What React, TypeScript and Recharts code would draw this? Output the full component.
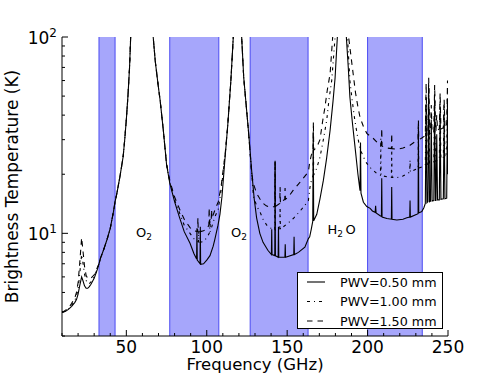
import { Legend, Line, LineChart, ReferenceArea, ReferenceDot, ReferenceLine, XAxis, YAxis } from 'recharts';

type Pt = [number, number];

// observing bands (GHz)
const bandStart = [33, 77, 127, 200];
const bandEnd = [43, 107.5, 163, 234];

const xTicks = [10, 20, 30, 40, 50, 60, 70, 80, 90, 100, 110, 120, 130, 140, 150, 160, 170, 180, 190, 200, 210, 220, 230, 240, 250];
const yTicks = [3, 4, 5, 6, 7, 8, 9, 10, 20, 30, 40, 50, 60, 70, 80, 90, 100];

const seriesNames = ['PWV=0.50 mm', 'PWV=1.00 mm', 'PWV=1.50 mm'];

const lineLabels = [
  { f: 61, t: 10.2, main: 'O', sub: '2', tail: '' },
  { f: 120.1, t: 10.2, main: 'O', sub: '2', tail: '' },
  { f: 183.9, t: 10.5, main: 'H', sub: '2', tail: 'O' },
];

// parts where all three curves sit on top of each other (saturated O2 lines)
const o2Wings60: Pt[] = [
  [34, 7.5], [36, 8.3], [38, 9.3], [40, 10.6], [42, 12.9], [43, 14.5], [44, 15.8], [46, 19.4], [48, 24.5],
  [49, 30], [50, 38], [51, 50], [52, 70], [52.7, 100], [53.5, 150], [55, 250], [64, 250], [66, 140],
  [66.7, 100], [68, 75], [70, 55], [71, 47.7], [73, 33.5], [75, 22.5],
];
const o2Wings118: Pt[] = [
  [113, 35], [115, 60], [116.5, 100], [117.5, 200], [120, 200], [121.7, 100], [123, 62], [125.9, 33.5],
];

const pwv050: Pt[] = [
  [10, 3.95], [12, 4.0], [14, 4.1], [16, 4.25], [18, 4.45], [19, 4.6], [20, 4.9], [21, 5.4], [22.2, 6.0],
  [23, 5.75], [24, 5.4], [25, 5.25], [26, 5.25], [27, 5.35], [28, 5.5], [30, 5.9], [32, 6.55], [33, 7.0],
  ...o2Wings60,
  [77, 18], [80, 14.5], [83, 12.1], [86, 10.2], [89.6, 8.9], [92, 7.9], [93.7, 7.4], [93.9, 10.6], [94.1, 7.3],
  [95.8, 7.0], [96, 10.8], [96.2, 6.95], [98, 7.0], [100, 7.3], [102, 7.7], [104, 8.6], [105, 9.3], [107, 11.0],
  [108.2, 12.5], [109.5, 15.5], [111.4, 24.4],
  ...o2Wings118,
  [128, 20.5], [129.5, 15], [131, 12], [133, 10], [135, 9], [138, 8.2], [140.2, 7.8], [140.4, 10.5], [140.6, 7.8],
  [142.3, 7.7], [142.5, 23], [142.7, 7.7], [144.4, 7.55], [144.6, 10.8], [144.8, 7.55], [147, 7.55], [148.6, 7.55],
  [148.8, 8.8], [149, 7.55], [150, 7.6], [154.1, 7.8], [154.3, 9.6], [154.5, 7.8], [157, 8.0], [161, 8.5],
  [163.2, 9.4], [164, 9.6], [165, 10.5], [165.9, 11.5], [166.2, 33], [166.5, 11.6], [168.4, 12.5], [170.4, 15],
  [172.5, 18.6], [174.5, 24], [176.7, 33.5], [178.5, 47], [179.8, 62], [181.2, 100], [182, 200], [185.5, 200],
  [186.8, 100], [188, 70], [189, 49.5], [190.5, 37], [192.2, 27.5], [194, 20], [195.3, 16.5], [195.6, 29],
  [195.9, 16], [197.4, 14.4], [199.5, 13.7], [201.6, 13.4], [203, 13.0], [204.7, 12.8], [205, 13.8], [205.3, 12.7],
  [207.8, 12.3], [208.6, 12.2], [208.8, 19.1], [209, 12.1], [212, 11.9], [214.8, 11.8], [215, 17.2], [215.2, 11.8],
  [218.2, 11.7], [222, 11.8], [224.4, 12.0], [226.2, 12.1], [226.4, 14.7], [226.6, 12.1], [230.6, 12.5],
  [231.4, 12.6], [231.6, 35], [231.8, 12.7], [233.7, 12.9], [235, 13.5], [235.9, 14.2], [236.4, 45], [236.9, 14.3],
  [237.5, 14.5], [238, 55], [238.5, 14.5], [239.1, 14.6], [239.6, 38], [240.1, 14.6], [241.2, 14.7], [241.7, 48],
  [242.2, 14.7], [242.5, 14.7], [243, 32], [243.5, 14.8], [244.6, 14.8], [245.1, 42], [245.6, 14.9], [247.1, 15.0],
  [247.6, 38], [248.1, 15.0], [249.2, 15.1], [249.7, 48], [250, 20],
];

const pwv100: Pt[] = [
  [10, 3.95], [12, 4.02], [14, 4.12], [16, 4.3], [18, 4.55], [19, 4.8], [20, 5.2], [21, 6.2], [22.2, 7.8],
  [23, 7.1], [24, 6.2], [25, 5.75], [26, 5.55], [27, 5.55], [28, 5.65], [30, 6.0], [32, 6.6], [33, 7.0],
  ...o2Wings60,
  [77, 18.3], [80, 14.8], [83.4, 12.5], [86, 11], [89.6, 10.0], [92, 9.4], [94, 9.1], [94.8, 9.05], [95, 10.3],
  [95.2, 9.0], [96, 9.0], [98, 9.1], [100, 9.5], [101.8, 10.1], [102, 12], [102.2, 10.2], [104, 11.4], [105, 12.1],
  [107.2, 13.3], [109, 16.8], [111.4, 24.8],
  ...o2Wings118,
  [128, 20], [129, 15.5], [131, 13.8], [133.2, 12.8], [135, 11.8], [137.3, 11.0], [140, 10.6], [142.3, 10.4],
  [142.5, 23.6], [142.7, 10.4], [145.4, 10.5], [145.6, 13.6], [145.8, 10.5], [147.6, 10.8], [150.7, 11.3],
  [153.8, 11.9], [157, 12.7], [160.1, 13.6], [163.2, 14.7], [164.2, 17.2], [165.3, 19], [166.1, 19.6], [166.3, 30],
  [166.5, 19.8], [168.4, 21.5], [170.4, 24.4], [172.5, 30], [174.6, 37.7], [176, 48], [177.7, 60], [179.8, 100],
  [180.5, 200], [186, 200], [187.5, 100], [189, 60], [190.5, 47], [192, 38], [193.5, 32], [195.3, 27],
  [197.4, 24.5], [199.5, 22.7], [202, 21.5], [205.7, 20.2], [208, 19.8], [208.2, 30.4], [208.4, 19.7], [212, 19.4],
  [214.8, 19.3], [215, 26.5], [215.2, 19.3], [218.2, 19.2], [222, 19.6], [226.2, 20.5], [226.4, 23.6], [226.6, 20.5],
  [230, 21.2], [231.4, 21.4], [231.6, 34], [231.8, 21.5], [233.7, 21.8], [235.9, 22.3], [236.4, 50], [236.9, 22.4],
  [237.5, 22.6], [238, 57], [238.5, 22.7], [240.9, 23.1], [241.2, 23.2], [241.7, 52], [242.2, 23.3],
  [244.6, 23.8], [245.1, 48], [245.6, 23.9], [247.1, 24.4], [247.6, 45], [248.1, 24.5], [249.2, 24.8],
  [249.7, 55], [250, 26],
];

const pwv150: Pt[] = [
  [10, 3.95], [12, 4.05], [14, 4.15], [16, 4.4], [18, 4.7], [19, 5.0], [20, 5.6], [21, 7.0], [22.2, 9.5],
  [23, 8.2], [24, 6.8], [25, 6.1], [26, 5.9], [27, 5.85], [28, 5.9], [30, 6.15], [32, 6.7], [33, 7.0],
  ...o2Wings60,
  [77, 18.6], [80, 15.3], [83.4, 13.1], [86, 11.8], [89.6, 10.7], [92, 10.3], [94.3, 10.2], [94.5, 12.0],
  [94.7, 10.2], [96, 10.2], [98, 10.3], [100, 10.5], [101.3, 11.0], [101.5, 13.5], [101.7, 11.1], [102.8, 11.8],
  [103, 13.2], [103.2, 11.9], [105, 13.1], [107.2, 14.5], [109, 17.5], [111.4, 25.2],
  ...o2Wings118,
  [128, 20], [129, 17.9], [131, 16], [133, 15], [135.2, 14.2], [137, 13.8], [139.4, 13.6], [142.3, 13.7],
  [142.5, 23.6], [142.7, 13.7], [145.4, 14.2], [145.6, 17.2], [145.8, 14.2], [147.6, 14.7], [148.5, 14.9],
  [148.7, 17], [148.9, 14.9], [150.7, 15.3], [153.8, 16.6], [157, 17.8], [160, 19.1], [163.2, 20.6], [164, 23],
  [165, 25], [166.1, 26], [166.3, 37], [166.5, 26.5], [168.5, 27.5], [170.4, 30], [172, 37], [173.5, 44],
  [175, 54], [176.7, 65], [178.3, 100], [179, 200], [187, 200], [188.2, 100], [190.2, 73.7], [192.5, 52],
  [194, 44], [195.3, 39], [197.4, 35], [199.5, 32.3], [201.5, 31.3], [203.6, 30.4], [206, 29], [208.6, 28],
  [208.8, 34.3], [209, 27.8], [212, 27.2], [214.8, 27], [215, 32.3], [215.2, 27], [218.2, 26.8], [222, 27.2],
  [226.4, 28.1], [230, 29.5], [231.4, 29.8], [231.6, 38], [231.8, 29.9], [233.7, 30.6], [235.9, 31.5], [236.4, 58],
  [236.9, 31.6], [237.5, 32], [238, 62], [238.5, 32], [239.1, 32.4], [239.6, 45], [240.1, 32.5], [241.2, 33],
  [241.7, 57], [242.2, 33], [242.5, 33.4], [243, 40], [243.5, 33.5], [244.6, 34], [245.1, 52], [245.6, 34],
  [247.1, 34.5], [247.6, 48], [248.1, 34.5], [249.2, 35], [249.7, 60], [250, 36],
];

const toRows = (pts: Pt[]) => pts.map(([f, t]) => ({ f, t }));

const FONT = 'DejaVu Sans, sans-serif';
const DASHES = [undefined, '3 4 1 4', '5.5 5'];
const BAND_FILL = '#a6a6fb';
const BAND_EDGE = '#4b4bf2';

function BottomTick({ x, y, payload }: any) {
  const v = payload.value;
  const major = v % 50 === 0;
  return (
    <g>
      <line x1={x} x2={x} y1={y} y2={y - (major ? 6 : 3)} stroke="#000" />
      {major && (
        <text x={x} y={y + 16.5} textAnchor="middle" fontSize={17} fontFamily={FONT} fill="#000">
          {v}
        </text>
      )}
    </g>
  );
}

function TopTick({ x, y, payload }: any) {
  const major = payload.value % 50 === 0;
  return <line x1={x} x2={x} y1={y} y2={y + (major ? 6 : 3)} stroke="#000" />;
}

function LeftTick({ x, y, payload }: any) {
  const v = payload.value;
  const major = v === 10 || v === 100;
  return (
    <g>
      <line x1={x} x2={x + (major ? 6 : 3)} y1={y} y2={y} stroke="#000" />
      {major && (
        <text x={x - 5} y={y + 6.5} textAnchor="end" fontSize={17} fontFamily={FONT} fill="#000">
          <tspan>10</tspan>
          <tspan dy={-7} fontSize={12}>{Math.round(Math.log10(v))}</tspan>
        </text>
      )}
    </g>
  );
}

function RightTick({ x, y, payload }: any) {
  const v = payload.value;
  const major = v === 10 || v === 100;
  return <line x1={x} x2={x - (major ? 6 : 3)} y1={y} y2={y} stroke="#000" />;
}

function LineLabel({ viewBox, main, sub, tail }: any) {
  const cx = viewBox.x + (viewBox.width || 0) / 2;
  const cy = viewBox.y + (viewBox.height || 0) / 2;
  return (
    <text x={cx} y={cy + 5} textAnchor="middle" fontSize={13} fontFamily={FONT} fill="#000">
      <tspan>{main}</tspan>
      <tspan dy={3} fontSize={9}>{sub}</tspan>
      {tail && <tspan dy={-3} dx={2.5}>{tail}</tspan>}
    </text>
  );
}

function LegendBox() {
  return (
    <svg width={146} height={58} style={{ display: 'block' }}>
      <rect x={0.5} y={0.5} width={145} height={56} fill="#fff" stroke="#000" />
      {seriesNames.map((name, i) => (
        <g key={name}>
          <line x1={10} x2={28} y1={10 + i * 19.5} y2={10 + i * 19.5} stroke="#000" strokeWidth={1.1} strokeDasharray={DASHES[i]} />
          <text x={43} y={14.5 + i * 19.5} fontSize={12.7} fontFamily={FONT} fill="#000">
            {name}
          </text>
        </g>
      ))}
    </svg>
  );
}

export default function App() {
  const series = [pwv050, pwv100, pwv150];
  return (
    <div style={{ position: 'absolute', left: 0, top: 0, width: 498, height: 374, background: '#fff', fontFamily: FONT }}>
      <LineChart width={498} height={374} margin={{ top: 37, right: 50, bottom: 0, left: 0 }}>
        {bandStart.map((x1, i) => (
          <ReferenceArea key={`band-${i}`} x1={x1} x2={bandEnd[i]} fill={BAND_FILL} fillOpacity={1} stroke="none" />
        ))}
        {[...bandStart, ...bandEnd].map((x, i) => (
          <ReferenceLine key={`edge-${i}`} x={x} stroke={BAND_EDGE} strokeWidth={1} />
        ))}
        <XAxis
          dataKey="f"
          type="number"
          domain={[10, 250]}
          allowDataOverflow
          ticks={xTicks}
          interval={0}
          height={38}
          tickSize={0}
          tickMargin={0}
          tick={<BottomTick />}
          axisLine={{ stroke: '#000' }}
          label={{
            content: ({ viewBox }: any) => (
              <text
                x={viewBox.x + viewBox.width / 2}
                y={viewBox.y + 34}
                textAnchor="middle"
                fontSize={16.5}
                fontFamily={FONT}
                fill="#000"
              >
                Frequency (GHz)
              </text>
            ),
          }}
        />
        <XAxis
          xAxisId="top"
          orientation="top"
          dataKey="f"
          type="number"
          domain={[10, 250]}
          allowDataOverflow
          ticks={xTicks}
          interval={0}
          height={0}
          tickSize={0}
          tickMargin={0}
          tick={<TopTick />}
          axisLine={{ stroke: '#000' }}
        />
        <YAxis
          type="number"
          scale="log"
          domain={[3, 100]}
          allowDataOverflow
          ticks={yTicks}
          interval={0}
          width={62}
          tickSize={0}
          tickMargin={0}
          tick={<LeftTick />}
          axisLine={{ stroke: '#000' }}
          label={{
            content: ({ viewBox }: any) => (
              <text
                x={18}
                y={viewBox.y + viewBox.height / 2}
                transform={`rotate(-90, 18, ${viewBox.y + viewBox.height / 2})`}
                textAnchor="middle"
                fontSize={17}
                fontFamily={FONT}
                fill="#000"
              >
                Brightness Temperature (K)
              </text>
            ),
          }}
        />
        <YAxis
          yAxisId="right"
          orientation="right"
          type="number"
          scale="log"
          domain={[3, 100]}
          allowDataOverflow
          ticks={yTicks}
          interval={0}
          width={0}
          tickSize={0}
          tickMargin={0}
          tick={<RightTick />}
          axisLine={{ stroke: '#000' }}
        />
        {lineLabels.map((l) => (
          <ReferenceDot
            key={`${l.f}`}
            x={l.f}
            y={l.t}
            r={0}
            fill="none"
            stroke="none"
            label={{ content: (p: any) => <LineLabel viewBox={p.viewBox} main={l.main} sub={l.sub} tail={l.tail} /> }}
          />
        ))}
        {series.map((pts, i) => (
          <Line
            key={seriesNames[i]}
            data={toRows(pts)}
            dataKey="t"
            name={seriesNames[i]}
            type="linear"
            stroke="#000"
            strokeWidth={1.1}
            strokeDasharray={DASHES[i]}
            dot={false}
            activeDot={false}
            isAnimationActive={false}
          />
        ))}
        <Legend
          layout="vertical"
          align="center"
          verticalAlign="middle"
          content={() => <LegendBox />}
          wrapperStyle={{ left: 297, top: 272, width: 146, height: 58 }}
        />
      </LineChart>
    </div>
  );
}
